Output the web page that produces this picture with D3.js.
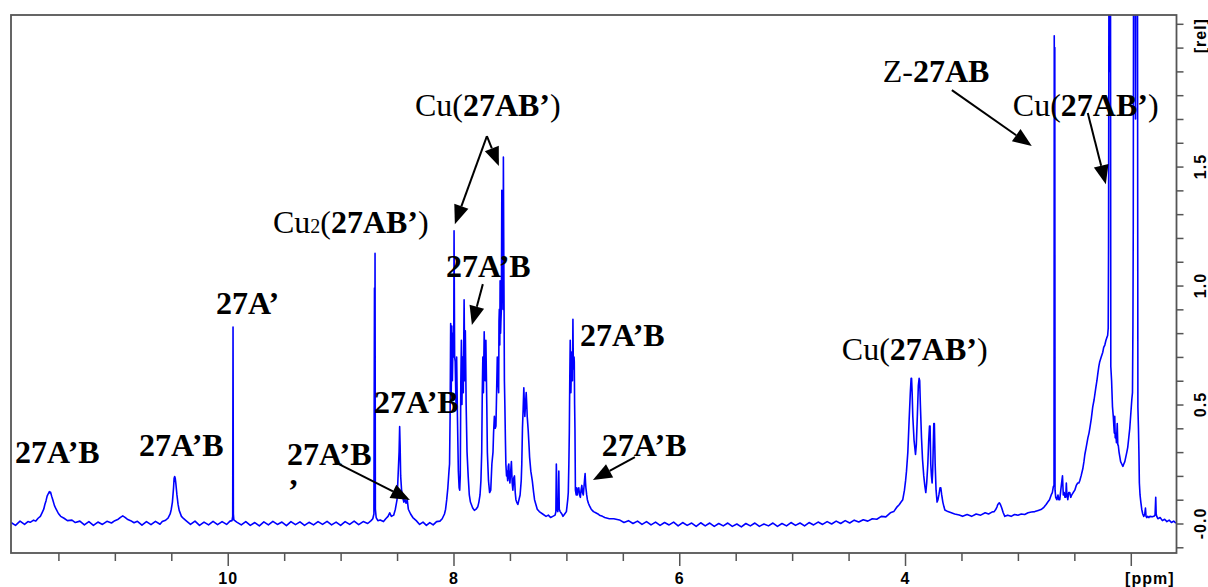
<!DOCTYPE html>
<meta charset="utf-8">
<script src="https://cdn.jsdelivr.net/npm/d3@7"></script>
<style>
body { margin: 0; background: #fff; }
.lbl { font-family: "Liberation Serif", "Times New Roman", serif; font-size: 32px; fill: #000; }
.axis text, .ylab { font-family: "Liberation Sans", Arial, sans-serif; font-weight: bold; font-size: 16px; fill: #000; letter-spacing: 1px; }
.axis line { stroke: #555; stroke-width: 1.5px; }
</style>
<body>
<script>

// spectrum: [ppm, intensity (rel)]
var spectrum = [
  [11.92,0.004],[11.88,-0.008],[11.84,0.01],[11.80,-0.004],[11.77,0.008],
  [11.75,0.005],[11.72,0.014],[11.70,0.010],[11.68,0.022],[11.66,0.03],[11.645,0.045],[11.63,0.06],[11.62,0.08],[11.61,0.095],[11.60,0.115],[11.59,0.125],[11.58,0.134],[11.575,0.128],[11.57,0.132],[11.56,0.115],[11.55,0.1],[11.535,0.075],[11.52,0.06],[11.50,0.042],[11.48,0.03],[11.45,0.022],[11.42,0.012],[11.38,0.014],[11.35,0.004],
  [11.31,0.01],[11.27,-0.006],[11.23,0.008],[11.19,-0.008],[11.15,0.006],[11.11,-0.004],[11.07,0.009],
  [11.03,0.002],[11.0,0.012],[10.97,0.018],[10.95,0.026],[10.93,0.032],[10.91,0.026],[10.89,0.018],[10.86,0.012],[10.83,0.003],[10.80,0.009],
  [10.76,-0.007],[10.72,0.008],[10.68,-0.005],[10.64,0.009],[10.60,-0.003],
  [10.58,0.008],[10.55,0.014],[10.53,0.022],[10.51,0.04],[10.50,0.06],[10.49,0.09],[10.48,0.15],[10.475,0.19],[10.47,0.197],[10.465,0.19],[10.46,0.17],[10.45,0.12],[10.44,0.08],[10.43,0.055],[10.41,0.03],[10.39,0.02],[10.37,0.012],
  [10.33,-0.004],[10.29,0.01],[10.25,-0.008],[10.21,0.006],[10.17,-0.006],[10.13,0.009],[10.09,-0.005],[10.05,0.008],[10.01,-0.004],[9.98,0.01],
  [9.962,0.012],[9.956,0.03],[9.953,0.826],[9.950,0.04],[9.946,0.015],
  [9.92,0.006],[9.88,-0.006],[9.84,0.008],[9.80,-0.008],[9.76,0.004],[9.72,-0.01],[9.68,0.007],[9.64,-0.006],[9.60,0.009],[9.56,-0.004],[9.52,0.006],[9.48,-0.009],[9.44,0.008],[9.40,-0.005],[9.36,0.007],[9.32,-0.008],[9.28,0.005],[9.24,-0.006],[9.20,0.008],[9.16,-0.004],[9.12,0.009],[9.08,-0.006],[9.04,0.006],[9.00,-0.008],[8.96,0.008],[8.92,-0.004],[8.88,0.01],[8.84,-0.005],[8.80,0.008],[8.76,0.0],[8.73,0.012],
  [8.715,0.02],[8.705,0.04],[8.700,0.99],[8.697,0.5],[8.695,1.135],[8.692,0.06],[8.685,0.025],[8.67,0.012],
  [8.65,0.015],[8.62,0.008],[8.60,0.02],[8.58,0.03],[8.565,0.045],[8.55,0.03],[8.53,0.035],[8.515,0.06],[8.50,0.1],[8.49,0.21],[8.482,0.3],[8.477,0.407],[8.473,0.33],[8.468,0.2],[8.46,0.14],[8.45,0.11],[8.44,0.09],[8.43,0.1],[8.42,0.085],[8.41,0.1],[8.40,0.06],[8.38,0.04],[8.36,0.025],[8.33,0.012],
  [8.30,-0.004],[8.27,0.006],[8.24,-0.008],[8.21,0.004],[8.18,-0.006],[8.15,0.008],[8.12,0.01],
  [8.10,0.02],[8.08,0.04],[8.07,0.06],[8.06,0.1],[8.05,0.15],[8.04,0.22],[8.035,0.25],[8.03,0.45],[8.025,0.84],[8.02,0.55],[8.015,0.83],[8.01,0.6],[8.003,0.8],[7.998,0.7],[7.995,1.23],[7.99,0.7],[7.985,0.68],[7.978,0.5],[7.972,0.70],[7.965,0.45],[7.957,0.22],[7.95,0.15],[7.945,0.14],
  [7.94,0.2],[7.935,0.6],[7.93,0.77],[7.925,0.5],[7.92,0.7],[7.913,0.55],[7.906,0.94],[7.90,0.6],[7.895,0.81],[7.888,0.5],[7.88,0.3],[7.87,0.2],[7.86,0.12],[7.85,0.09],[7.83,0.065],[7.815,0.055],[7.80,0.06],[7.785,0.07],[7.775,0.09],[7.765,0.12],[7.757,0.18],
  [7.75,0.3],[7.745,0.55],[7.74,0.7],[7.735,0.55],[7.728,0.806],[7.72,0.6],[7.713,0.77],[7.705,0.5],[7.70,0.3],[7.69,0.18],[7.68,0.13],[7.67,0.14],[7.66,0.25],
  [7.65,0.3],[7.645,0.38],[7.638,0.45],[7.63,0.4],[7.624,0.41],[7.618,0.55],[7.612,0.7],[7.607,0.62],[7.60,0.55],[7.597,0.85],[7.594,0.9],[7.59,0.75],[7.587,1.02],[7.583,0.8],[7.58,0.85],[7.576,0.9],[7.572,1.40],[7.568,1.0],[7.565,1.1],[7.561,0.9],[7.558,1.54],[7.555,1.2],[7.553,1.0],[7.549,0.6],[7.545,0.5],[7.54,0.35],[7.536,0.25],
  [7.53,0.2],[7.526,0.22],[7.52,0.18],[7.515,0.24],[7.51,0.25],[7.505,0.19],[7.50,0.17],[7.493,0.22],[7.487,0.26],[7.48,0.17],[7.474,0.14],[7.467,0.19],[7.46,0.2],[7.453,0.13],[7.447,0.1],[7.44,0.09],[7.43,0.08],[7.42,0.1],[7.41,0.12],
  [7.40,0.18],[7.395,0.25],[7.389,0.4],[7.383,0.48],[7.377,0.57],[7.372,0.5],[7.368,0.45],[7.362,0.5],[7.356,0.55],[7.351,0.5],[7.347,0.45],[7.338,0.39],[7.33,0.32],[7.326,0.28],[7.315,0.22],[7.302,0.18],[7.29,0.13],[7.282,0.1],[7.27,0.08],[7.258,0.06],[7.24,0.05],[7.21,0.04],[7.18,0.03],[7.16,0.035],[7.14,0.025],[7.12,0.03],[7.10,0.035],
  [7.093,0.05],[7.089,0.25],[7.086,0.18],[7.083,0.06],[7.076,0.05],[7.07,0.1],[7.067,0.22],[7.063,0.06],[7.055,0.05],[7.04,0.04],[7.03,0.03],[7.015,0.04],[7.0,0.05],
  [6.995,0.07],[6.988,0.1],[6.983,0.13],[6.978,0.25],[6.974,0.38],[6.97,0.6],[6.966,0.77],[6.962,0.6],[6.96,0.55],[6.956,0.65],[6.953,0.72],[6.95,0.62],[6.946,0.6],[6.942,0.858],[6.939,0.7],[6.936,0.65],[6.932,0.7],[6.93,0.68],[6.927,0.5],[6.924,0.4],[6.92,0.14],
  [6.913,0.12],[6.908,0.15],[6.903,0.12],[6.897,0.14],[6.89,0.15],[6.883,0.12],[6.876,0.11],[6.87,0.14],[6.863,0.16],[6.857,0.13],[6.85,0.12],[6.843,0.16],[6.838,0.19],[6.834,0.21],[6.83,0.17],[6.827,0.15],[6.82,0.12],[6.814,0.1],[6.805,0.085],[6.796,0.075],[6.78,0.06],[6.76,0.05],[6.74,0.045],[6.72,0.04],[6.707,0.035],[6.68,0.03],[6.66,0.025],[6.62,0.02],[6.58,0.02],[6.53,0.015],
  [6.49,0.004],[6.45,0.012],[6.41,0.0],[6.37,0.01],[6.33,-0.004],[6.29,0.008],[6.25,-0.006],[6.21,0.006],[6.17,-0.008],[6.13,0.004],[6.09,-0.006],[6.05,0.006],[6.01,-0.01],[5.97,0.004],[5.93,-0.008],[5.89,0.002],[5.85,-0.012],[5.81,0.003],[5.77,-0.01],[5.73,0.002],[5.69,-0.012],[5.65,0.0],[5.61,-0.01],[5.57,0.002],[5.53,-0.012],[5.49,-0.002],[5.45,-0.014],[5.41,0.0],[5.37,-0.01],[5.33,0.002],[5.29,-0.012],[5.25,-0.002],[5.21,-0.01],[5.17,0.002],[5.13,-0.012],[5.09,0.0],[5.05,-0.01],[5.01,0.004],[4.97,-0.008],[4.93,0.002],[4.89,-0.01],[4.85,0.004],[4.81,-0.006],[4.77,0.006],[4.73,-0.004],[4.69,0.008],[4.65,-0.002],[4.61,0.01],[4.57,0.0],[4.53,0.012],[4.49,0.002],[4.45,0.014],[4.41,0.006],[4.37,0.016],[4.33,0.01],[4.29,0.02],[4.25,0.018],[4.21,0.03],[4.17,0.028],[4.13,0.045],[4.10,0.05],[4.07,0.07],[4.05,0.08],
  [4.035,0.09],[4.02,0.1],[4.005,0.14],[3.995,0.18],[3.987,0.22],[3.975,0.3],[3.964,0.43],[3.953,0.55],[3.946,0.61],[3.942,0.61],[3.937,0.55],[3.931,0.45],[3.92,0.35],[3.907,0.29],[3.9,0.33],[3.891,0.45],[3.882,0.58],[3.875,0.61],[3.87,0.6],[3.864,0.5],[3.854,0.36],[3.845,0.27],[3.834,0.2],[3.825,0.16],[3.816,0.13],[3.808,0.17],[3.798,0.25],[3.79,0.35],[3.783,0.41],[3.778,0.41],[3.772,0.25],[3.766,0.2],[3.76,0.17],[3.755,0.22],[3.751,0.3],[3.745,0.42],[3.740,0.42],[3.733,0.25],[3.725,0.14],[3.716,0.09],[3.708,0.1],[3.7,0.12],[3.69,0.15],[3.683,0.15],[3.675,0.12],[3.665,0.09],[3.655,0.07],[3.647,0.057],
  [3.62,0.05],[3.59,0.045],[3.56,0.04],[3.52,0.036],[3.49,0.03],[3.45,0.038],[3.41,0.03],[3.37,0.04],[3.33,0.035],[3.29,0.045],[3.26,0.04],[3.23,0.048],[3.21,0.05],[3.195,0.06],[3.185,0.07],[3.178,0.08],[3.165,0.087],[3.155,0.08],[3.143,0.065],[3.13,0.045],[3.116,0.03],[3.09,0.035],[3.06,0.03],[3.03,0.038],[3.0,0.035],[2.97,0.04],[2.94,0.038],[2.91,0.045],[2.88,0.048],[2.85,0.05],[2.82,0.055],[2.79,0.06],[2.77,0.068],[2.75,0.08],[2.735,0.09],[2.72,0.1],[2.705,0.12],[2.695,0.13],[2.686,0.155],
  [2.68,0.16],[2.678,2.05],[2.675,1.6],[2.673,2.0],[2.671,0.14],[2.665,0.11],[2.655,0.1],[2.645,0.12],[2.638,0.1],[2.629,0.1],[2.62,0.14],[2.613,0.17],[2.605,0.2],[2.598,0.12],[2.59,0.13],[2.583,0.11],[2.576,0.11],[2.571,0.17],[2.567,0.13],[2.558,0.1],[2.55,0.13],[2.54,0.13],[2.532,0.11],[2.523,0.12],[2.51,0.13],[2.496,0.14],[2.483,0.16],[2.47,0.17],[2.46,0.17],[2.452,0.18],[2.44,0.2],[2.425,0.23],[2.415,0.26],[2.407,0.29],[2.395,0.32],[2.38,0.36],[2.37,0.38],[2.363,0.40],[2.35,0.44],[2.337,0.49],[2.325,0.52],[2.31,0.57],[2.3,0.6],[2.292,0.63],[2.283,0.66],[2.275,0.68],[2.262,0.7],[2.248,0.72],[2.24,0.74],[2.23,0.75],[2.22,0.77],[2.213,0.78],[2.205,0.79],[2.2,0.82],
  [2.197,1.16],[2.193,2.5],[2.186,2.5],[2.183,1.9],[2.18,2.5],[2.177,0.66],[2.17,0.6],[2.162,0.49],[2.155,0.45],[2.15,0.41],[2.146,0.38],[2.142,0.45],[2.138,0.36],[2.133,0.38],[2.127,0.34],[2.12,0.42],[2.115,0.33],[2.111,0.33],[2.104,0.3],[2.097,0.28],[2.09,0.26],[2.08,0.25],[2.07,0.24],[2.062,0.25],[2.053,0.26],[2.044,0.28],[2.035,0.3],[2.027,0.32],[2.018,0.36],[2.009,0.40],[2.0,0.46],[1.991,0.52],[1.985,0.55],
  [1.981,0.83],[1.978,1.25],[1.975,2.5],[1.962,2.5],[1.958,1.7],[1.955,2.5],[1.941,2.5],[1.937,0.49],[1.932,0.4],[1.928,0.3],[1.924,0.17],[1.918,0.12],[1.911,0.09],[1.903,0.06],[1.894,0.04],[1.885,0.03],[1.876,0.04],[1.87,0.065],[1.865,0.03],[1.858,0.025],[1.85,0.03],[1.84,0.025],[1.83,0.03],[1.81,0.028],[1.796,0.03],[1.785,0.035],[1.779,0.11],[1.775,0.04],[1.77,0.03],[1.76,0.02],[1.74,0.025],[1.72,0.012],[1.70,0.018],[1.68,0.008],[1.66,0.014],[1.64,0.004],[1.62,0.01],[1.60,0.002]
];

var xMajor = [10, 8, 6, 4, 2];
var xMajorLabels = ["10", "8", "6", "4", ""];
var yLabelValues = [0, 0.5, 1.0, 1.5];
var yLabelTexts = ["-0.0", "0.5", "1.0", "1.5"];

// annotations: [ppm, rel] of text start, pieces [text, bold?, small?]
var labels = [
  {at: [11.885, 0.254], parts: [["27A’B", 1]]},
  {at: [10.787, 0.284], parts: [["27A’B", 1]]},
  {at: [10.105, 0.880], parts: [["27A’", 1]]},
  {at: [9.600, 1.221], parts: [["Cu", 0], ["2", 0, 1], ["(", 0], ["27AB’", 1], [")", 0]]},
  {at: [9.476, 0.246], parts: [["27A’B", 1]]},
  {at: [9.467, 0.095], parts: [["’", 1]]},
  {at: [8.705, 0.464], parts: [["27A’B", 1]]},
  {at: [8.067, 1.036], parts: [["27A’B", 1]]},
  {at: [8.342, 1.712], parts: [["Cu(", 0], ["27AB’", 1], [")", 0]]},
  {at: [6.880, 0.746], parts: [["27A’B", 1]]},
  {at: [6.686, 0.284], parts: [["27A’B", 1]]},
  {at: [4.560, 0.687], parts: [["Cu(", 0], ["27AB’", 1], [")", 0]]},
  {at: [4.197, 1.855], parts: [["Z-", 0], ["27AB", 1]]},
  {at: [3.045, 1.712], parts: [["Cu(", 0], ["27AB’", 1], [")", 0]]}
];

// arrows: [from, tip] in [ppm, rel]
var arrows = [
  [[9.050, 0.258], [8.386, 0.099]],
  [[7.704, 1.628], [7.988, 1.258]],
  [[7.704, 1.628], [7.598, 1.502]],
  [[7.740, 1.006], [7.837, 0.834]],
  [[6.393, 0.279], [6.765, 0.183]],
  [[3.585, 1.821], [2.877, 1.586]],
  [[2.381, 1.725], [2.221, 1.426]]
];

var width = 1208, height = 587;
var plotL = 11, plotR = 1176.5, plotT = 15, plotB = 553;

var x = d3.scaleLinear().domain([11.92, 1.595]).range([plotL, plotR]);
var y = d3.scaleLinear().domain([-0.124, 2.137]).range([plotB, plotT]);

var svg = d3.select("body").append("svg")
    .attr("width", width)
    .attr("height", height);

svg.append("clipPath").attr("id", "plotclip")
  .append("rect")
    .attr("x", plotL).attr("y", plotT)
    .attr("width", plotR - plotL).attr("height", plotB - plotT);

// spectrum trace
var line = d3.line()
    .x(function(d) { return x(d[0]); })
    .y(function(d) { return y(d[1]); });

svg.append("path")
    .datum(spectrum)
    .attr("clip-path", "url(#plotclip)")
    .attr("fill", "none")
    .attr("stroke", "#0000ff")
    .attr("stroke-width", 1.6)
    .attr("stroke-linejoin", "round")
    .attr("d", line);

// frame
svg.append("rect")
    .attr("x", plotL).attr("y", plotT)
    .attr("width", plotR - plotL).attr("height", plotB - plotT)
    .attr("fill", "none")
    .attr("stroke", "#555")
    .attr("stroke-width", 1.8);

// x axis: minor ticks every 0.5 ppm, labelled majors
var minorX = d3.range(2, 12, 0.5).filter(function(v) { return xMajor.indexOf(v) < 0; });
svg.append("g").attr("class", "axis")
    .attr("transform", "translate(0," + plotB + ")")
    .call(d3.axisBottom(x).tickValues(minorX).tickSize(8).tickFormat(""))
    .call(function(g) { g.select(".domain").remove(); });

svg.append("g").attr("class", "axis")
    .attr("transform", "translate(0," + plotB + ")")
    .call(d3.axisBottom(x).tickValues(xMajor).tickSize(13).tickPadding(7)
      .tickFormat(function(d, i) { return xMajorLabels[i]; }))
    .call(function(g) { g.select(".domain").remove(); });

svg.append("text").attr("class", "ylab")
    .attr("x", plotR - 2).attr("y", 584)
    .attr("text-anchor", "end")
    .text("[ppm]");

// y axis on the right
svg.append("g").attr("class", "axis")
    .attr("transform", "translate(" + plotR + ",0)")
    .call(d3.axisRight(y).tickValues(d3.range(-1, 22).map(function(i) { return i / 10; })).tickSize(7).tickFormat(""))
    .call(function(g) { g.select(".domain").remove(); });

svg.selectAll(".ytxt")
  .data(yLabelValues)
  .enter().append("text")
    .attr("class", "ylab")
    .attr("text-anchor", "middle")
    .attr("transform", function(d) { return "translate(1206," + y(d) + ") rotate(-90)"; })
    .text(function(d, i) { return yLabelTexts[i]; });

svg.append("text").attr("class", "ylab")
    .attr("text-anchor", "middle")
    .attr("transform", "translate(1206," + y(2.05) + ") rotate(-90)")
    .text("[rel]");

// labels
labels.forEach(function(l) {
  var t = svg.append("text").attr("class", "lbl")
      .attr("x", x(l.at[0])).attr("y", y(l.at[1]));
  l.parts.forEach(function(p) {
    t.append("tspan")
      .attr("font-weight", p[1] ? "bold" : "normal")
      .attr("font-size", p[2] ? "20px" : null)
      .text(p[0]);
  });
});

// arrows
arrows.forEach(function(a) {
  var x0 = x(a[0][0]), y0 = y(a[0][1]), x1 = x(a[1][0]), y1 = y(a[1][1]);
  var ang = Math.atan2(y1 - y0, x1 - x0);
  var hl = 19, hw = 7.5;
  var bx = x1 - hl * Math.cos(ang), by = y1 - hl * Math.sin(ang);
  svg.append("line")
      .attr("x1", x0).attr("y1", y0).attr("x2", bx).attr("y2", by)
      .attr("stroke", "#000").attr("stroke-width", 2);
  var pts = [
    [x1, y1],
    [bx + hw * Math.sin(ang), by - hw * Math.cos(ang)],
    [bx - hw * Math.sin(ang), by + hw * Math.cos(ang)]
  ];
  svg.append("polygon")
      .attr("points", pts.map(function(p) { return p.join(","); }).join(" "))
      .attr("fill", "#000");
});

</script>
</body>
